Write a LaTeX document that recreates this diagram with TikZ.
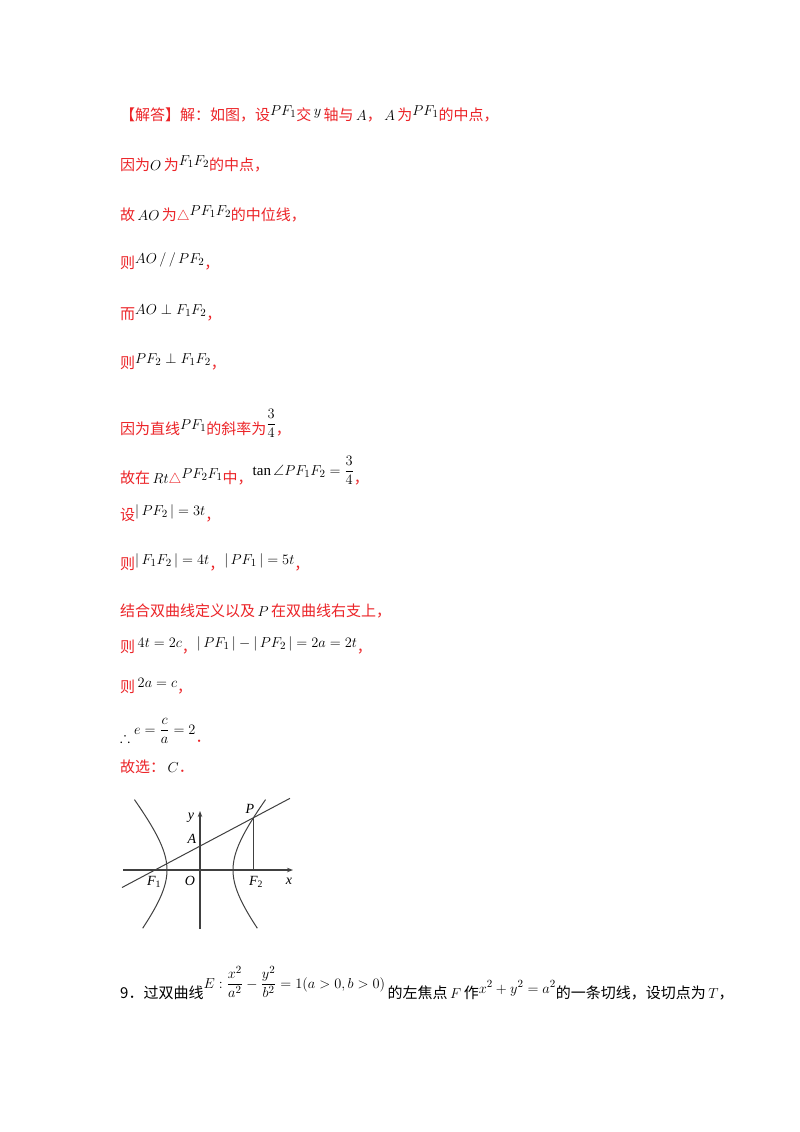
\documentclass[tikz,border=0pt]{standalone}
\usepackage{fontspec}
\usepackage{amsmath,amssymb}
\usetikzlibrary{arrows.meta}
\setmainfont{Liberation Serif}
\newfontfamily\cjk{Noto Sans CJK SC}
\definecolor{ans}{RGB}{236,36,40}
\newcommand{\up}[1]{\raisebox{5pt}{#1}}
\begin{document}
\begin{tikzpicture}[x=1pt,y=-1pt,
  tl/.style={anchor=base west,inner sep=0pt,font=\fontsize{15}{18}\selectfont\cjk,text=ans},
  tb/.style={anchor=base west,inner sep=0pt,font=\fontsize{15}{18}\selectfont\cjk,text=black},
  ax/.style={line width=1.1pt,black!75},
  cv/.style={line width=1pt,black!75},
  lb/.style={inner sep=0pt,font=\fontsize{14}{15}\selectfont\itshape}]
\useasboundingbox[fill=white] (0,0) rectangle (800,1132);
\node[tl] (l1) at (120,120) {【解答】解：如图，设\up{\color{black}$PF_1$}交\,\up{\color{black}$y$}\,轴与\,{\color{black}$A$}，\,{\color{black}$A$}\,为\up{\color{black}$PF_1$}的中点，};
\node[tl] (l2) at (120,170) {因为{\color{black}$O$}\,为\up{\color{black}$F_1F_2$}的中点，};
\node[tl] (l3) at (120,220) {故\,{\color{black}$AO$}\,为$\triangle$\up{\color{black}$PF_1F_2$}的中位线，};
\node[tl] (l4) at (120,268) {则\up{\color{black}$AO\,/\,/\,PF_2$}，};
\node[tl] (l5) at (120,319) {而\up{\color{black}$AO\perp F_1F_2$}，};
\node[tl] (l6) at (120,368) {则\up{\color{black}$PF_2\perp F_1F_2$}，};
\node[tl] (l7) at (120,434) {因为直线\up{\color{black}$PF_1$}的斜率为\raisebox{6pt}{\color{black}$\dfrac{3}{4}$}，};
\node[tl] (l8) at (120,483) {故在\,{\color{black}$Rt$}$\triangle$\up{\color{black}$PF_2F_1$}中，\raisebox{8pt}{\color{black}$\tan\angle PF_1F_2=\dfrac{3}{4}$}，};
\node[tl] (l9) at (120,520) {设\up{\color{black}$|\,PF_2\,|=3t$}，};
\node[tl] (l10) at (120,569) {则\up{\color{black}$|\,F_1F_2\,|=4t$}，\up{\color{black}$|\,PF_1\,|=5t$}，};
\node[tl] (l11) at (120,616) {结合双曲线定义以及\,{\color{black}$P$}\,在双曲线右支上，};
\node[tl] (l12) at (120,652) {则\,\up{\color{black}$4t=2c$}，\up{\color{black}$|\,PF_1\,|-|\,PF_2\,|=2a=2t$}，};
\node[tl] (l13) at (120,692) {则\,\up{\color{black}$2a=c$}，};
\node[tl] (l14) at (120,742) {{\color{black}$\therefore$}\raisebox{8pt}{\color{black}$\;e=\dfrac{c}{a}=2$}．};
\node[tl] (l15) at (120,772) {故选：\,{\color{black}$C$}．};
% figure
\coordinate (xs) at (123,870); \coordinate (xe) at (293,870);
\coordinate (ys) at (200,929); \coordinate (ye) at (200,811);
\draw[ax,-{Stealth[length=6pt]}] (xs) -- (xe);
\draw[ax,-{Stealth[length=6pt]}] (ys) -- (ye);
\draw[cv,domain=-1.15:1.31,samples=60] plot ({200+33*cosh(\x)},{870-41*sinh(\x)});
\draw[cv,domain=-1.15:1.31,samples=60] plot ({200-33*cosh(\x)},{870-41*sinh(\x)});
\coordinate (F1) at (155,870); \coordinate (F2) at (253,870); \coordinate (P) at (253,818);
\coordinate (ls) at (122,887.5); \coordinate (le) at (290,798.3);
\draw[cv] (ls) -- (le);
\draw[cv] (P) -- (F2);
\node[lb] (ny) at (191,818) {y};
\node[lb] (nx) at (289,881) {x};
\node[lb] (nO) at (190,881) {O};
\node[lb] (nA) at (192,839) {A};
\node[lb] (nP) at (250,809) {P};
\node[lb] (nF1) at (154,882) {F\textsubscript{\upshape 1}};
\node[lb] (nF2) at (256,882) {F\textsubscript{\upshape 2}};
% question 9
\node[tb] (q9) at (120,998) {9．过双曲线\raisebox{10pt}{$E:\dfrac{x^2}{a^2}-\dfrac{y^2}{b^2}=1(a>0,b>0)$}\,的左焦点\,{$F$}\,作\up{$x^2+y^2=a^2$}的一条切线，设切点为\,{$T$}，};
\end{tikzpicture}
\end{document}
